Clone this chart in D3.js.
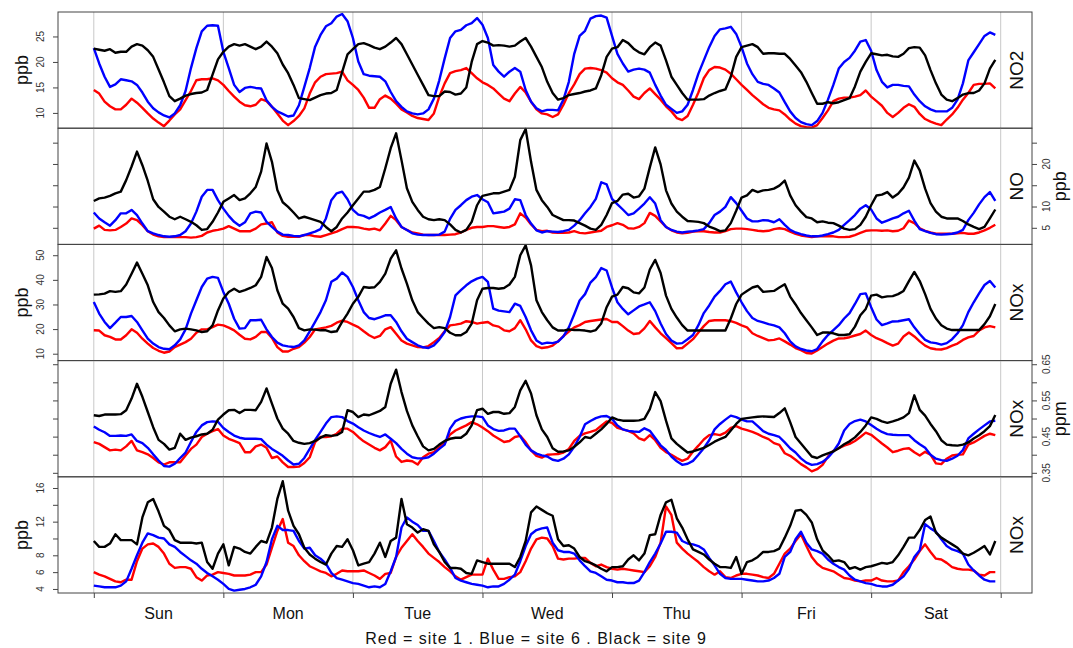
<!DOCTYPE html>
<html lang="en">
<head>
  <meta charset="UTF-8">
  <title>Hour of week NO2 / NO / NOx by site</title>
  <style>
    body { margin: 0; background: #fff; }
    svg { display: block; font-family: "Liberation Sans", Arial, sans-serif; }
  </style>
</head>
<body>
  <svg width="1073" height="648"></svg>

  <script src="https://cdn.jsdelivr.net/npm/d3@7/dist/d3.min.js"></script>
  <script>
    // hour of week: 7 days x 24 h, Sun 00h first
    const DAYS = ["Sun", "Mon", "Tue", "Wed", "Thu", "Fri", "Sat"];
    const CAPTION = "Red = site 1 . Blue = site 6 . Black = site 9";

    // ---- NO2 (ppb)
    const no2Red = [
      14.5,13.8,12.2,11.3,10.7,10.7,11.6,12.8,12.0,11.0,9.9,8.9,8.1,7.4,8.5,9.7,10.7,12.5,14.3,16.4,16.6,16.6,16.8,16.4,
      15.5,14.3,13.2,12.2,11.5,11.3,11.6,12.7,12.3,11.2,9.9,8.5,7.6,8.4,9.4,10.9,13.8,16.0,17.1,17.6,17.7,17.8,18.1,16.4,
      15.5,14.5,13.0,11.0,11.0,12.7,13.4,12.8,11.8,10.7,10.1,9.4,9.0,8.8,8.6,9.9,13.2,15.8,17.8,18.2,18.4,18.8,17.8,16.8,
      16.0,15.5,14.8,13.8,12.8,12.3,13.8,15.1,14.0,12.2,10.7,9.9,9.7,9.2,9.7,11.6,13.9,15.6,17.6,18.7,18.8,18.7,18.4,17.9,
      16.8,16.0,15.5,14.4,13.2,12.7,13.9,14.8,13.7,12.6,11.3,10.3,9.0,8.6,9.4,11.6,14.0,16.8,18.4,19.0,18.9,18.5,17.7,16.6,
      15.5,14.5,13.5,12.6,11.7,11.0,10.7,10.5,9.7,8.7,7.9,7.4,7.2,7.1,7.6,9.0,10.5,12.3,12.8,13.0,13.0,13.2,13.5,14.4,
      13.2,12.3,11.4,10.0,9.2,10.0,11.0,11.7,11.2,9.8,8.8,8.3,7.9,7.6,8.7,9.7,11.0,12.6,13.9,15.5,15.7,15.7,15.8,14.8
    ];
    const no2Blue = [
      22.7,19.7,17.1,15.1,15.6,16.6,16.4,16.2,15.5,14.0,12.2,10.9,10.1,9.5,9.1,9.9,11.5,14.3,18.8,22.7,26.0,27.1,27.2,27.1,
      22.0,18.8,15.5,14.1,14.9,15.1,14.9,14.8,12.5,11.2,10.3,9.8,9.3,9.5,11.5,15.1,18.8,23.0,25.3,27.0,27.6,28.9,29.4,28.0,
      24.7,20.1,17.6,17.3,17.2,17.1,16.2,14.1,12.3,11.2,10.3,9.9,9.7,9.9,10.7,12.8,16.4,20.7,24.7,26.0,26.3,27.2,27.6,28.6,
      27.3,24.7,19.4,18.1,17.1,18.1,18.8,18.1,14.5,12.2,10.9,10.3,10.6,10.6,10.5,12.6,16.1,21.6,25.1,26.1,28.5,29.0,29.1,28.7,
      25.1,21.6,19.7,18.1,18.5,18.7,18.5,17.9,15.5,13.4,11.6,10.8,10.0,10.3,11.6,14.5,17.7,20.3,22.9,25.1,26.4,26.6,26.9,25.5,
      22.9,19.7,17.6,16.1,15.7,15.5,14.8,14.0,12.1,10.3,9.0,8.2,7.8,7.6,8.4,10.0,12.6,15.5,18.7,20.0,20.8,22.2,24.0,24.3,
      22.2,18.4,16.1,15.0,15.5,15.5,15.3,15.2,13.6,12.3,11.3,10.7,10.3,10.3,10.3,11.0,12.6,15.8,20.3,21.9,23.5,25.1,25.8,25.3
    ];
    const no2Black = [
      22.6,22.4,22.2,22.5,21.8,22.0,22.0,23.0,23.5,23.2,22.3,21.0,18.5,16.0,13.3,12.3,12.8,13.4,13.7,13.9,14.0,14.5,17.5,20.5,
      22.0,23.0,23.5,23.2,23.5,23.0,22.5,23.0,24.0,23.0,21.7,19.5,17.8,15.5,12.9,12.7,12.5,13.0,13.5,13.8,13.9,14.5,18.0,21.5,
      22.5,23.5,23.7,23.3,22.8,22.5,23.0,23.8,24.7,23.5,21.5,19.5,17.5,15.5,13.5,13.3,13.3,14.2,14.1,13.6,13.8,15.0,20.0,23.5,
      24.1,23.8,23.2,23.3,23.2,23.0,23.2,24.0,24.7,23.0,21.0,19.0,16.1,13.9,12.6,12.9,13.5,13.7,13.9,14.2,14.4,14.8,17.4,21.0,
      22.6,22.9,24.3,23.7,22.6,21.9,21.5,22.9,23.8,23.2,20.3,17.1,15.5,13.9,12.6,12.6,12.6,12.7,13.4,13.9,14.3,14.6,17.1,21.0,
      22.9,23.2,23.5,22.9,21.6,21.7,21.7,21.6,21.6,20.6,19.3,18.0,16.1,13.9,11.8,11.8,12.1,11.9,12.1,12.5,12.9,15.2,18.1,20.0,
      21.7,21.5,21.3,21.4,21.1,21.0,21.6,22.7,22.9,22.8,21.3,18.4,15.8,13.6,12.6,12.3,12.9,13.6,13.9,13.9,14.4,15.8,18.7,20.4
    ];

    // ---- NO (ppb)
    const noRed = [
      4.8,5.5,4.5,4.4,4.5,5.2,6.0,7.2,6.8,5.6,4.2,3.4,3.0,2.8,2.8,2.9,2.8,2.8,2.7,2.8,3.1,3.9,4.3,4.5,
      4.8,5.4,4.8,4.2,4.2,4.2,4.8,5.8,6.0,6.3,3.9,3.1,2.9,2.9,2.9,3.3,3.3,3.0,2.9,3.3,3.7,4.1,4.7,5.2,
      5.2,5.1,4.8,4.6,4.8,4.4,6.0,7.8,6.8,5.2,4.5,3.9,3.7,3.4,3.3,3.3,3.3,3.3,3.4,3.5,3.9,4.5,5.0,5.2,
      5.2,5.4,5.4,5.2,5.0,5.2,5.8,8.4,7.4,5.8,4.5,4.2,4.3,3.9,3.8,3.8,3.9,4.2,3.8,3.7,3.9,4.1,4.3,5.2,
      5.6,6.1,5.7,4.9,4.8,5.2,6.1,8.5,7.8,6.5,5.2,4.4,3.9,3.7,3.8,4.1,4.2,4.2,4.0,3.9,3.9,4.2,4.7,4.8,
      4.8,4.7,4.5,4.3,4.2,4.3,4.7,4.9,4.7,4.1,3.6,3.2,3.0,2.8,3.0,3.0,3.0,3.0,2.8,2.8,2.9,3.3,3.8,4.3,
      4.4,4.4,4.3,4.4,4.2,4.3,4.9,6.7,6.1,4.9,4.3,3.9,3.6,3.6,3.6,3.6,3.7,3.8,3.6,3.6,3.9,4.4,5.0,5.7
    ];
    const noBlue = [
      8.6,7.2,6.3,5.5,6.8,8.4,8.4,9.2,8.0,6.0,4.2,3.7,3.3,3.0,2.9,3.0,3.3,4.2,6.0,8.8,12.3,13.9,13.9,11.5,
      9.5,7.8,6.4,5.5,6.3,8.4,8.8,8.6,6.4,5.2,4.1,3.4,3.3,3.1,3.0,3.3,3.7,4.1,4.7,7.2,11.5,13.1,13.5,11.7,
      9.2,8.1,7.8,7.2,7.8,8.6,9.2,9.9,7.2,5.2,4.5,3.7,3.4,3.3,3.3,3.3,3.4,4.1,7.1,9.2,10.3,11.5,12.3,12.7,
      11.7,11.0,8.4,8.6,8.8,9.5,11.7,11.5,8.0,6.0,4.4,3.9,4.2,4.1,4.0,4.2,4.5,5.5,6.8,8.4,9.9,11.8,15.7,15.2,
      11.8,10.5,9.3,8.0,8.4,9.5,10.7,12.2,10.7,6.8,5.2,4.5,4.1,3.9,4.1,4.2,4.4,4.7,6.1,8.0,8.8,9.9,12.2,10.8,
      9.0,7.2,6.5,6.5,6.8,6.7,6.3,7.0,5.7,4.5,3.9,3.5,3.2,3.0,3.0,3.2,3.5,3.9,4.5,5.7,6.8,8.0,9.5,10.3,
      9.3,7.2,6.2,6.7,7.2,7.6,8.4,9.0,6.7,4.7,4.2,3.8,3.5,3.4,3.5,3.6,3.9,4.5,6.8,8.5,10.5,12.2,13.4,11.3
    ];
    const noBlack = [
      11.3,11.9,12.1,12.5,13.1,13.5,16.2,19.4,22.9,19.7,16.0,11.7,9.9,8.8,7.6,7.0,7.6,7.0,6.4,5.6,4.5,4.7,6.4,8.6,
      11.1,11.9,12.7,11.5,11.9,13.1,14.6,18.2,24.8,20.5,13.9,11.0,9.9,8.6,7.2,7.6,7.2,6.8,6.4,5.2,4.2,5.2,7.2,8.6,
      10.3,11.9,13.5,13.5,13.9,14.6,19.0,23.7,27.2,20.9,14.3,11.1,9.2,7.6,7.0,6.8,7.0,6.8,5.8,4.5,3.9,4.5,6.4,10.3,
      12.5,12.8,13.1,13.1,13.5,13.9,17.0,25.6,28.2,20.5,13.9,11.5,9.9,8.0,7.4,6.8,6.8,6.7,6.1,5.5,4.8,4.5,5.7,8.0,
      10.8,11.3,12.8,13.0,12.1,12.4,14.2,19.2,23.9,19.9,13.8,10.7,8.8,7.6,6.6,6.5,6.4,6.1,5.3,4.8,4.2,4.4,6.1,9.0,
      12.1,12.6,13.9,13.4,13.8,13.9,14.2,14.9,16.1,12.6,10.3,8.8,7.5,7.2,6.3,6.5,6.2,6.1,5.5,4.8,4.5,4.7,5.7,7.6,
      10.3,12.6,12.8,13.4,12.1,13.0,14.5,16.8,20.8,18.5,14.2,10.8,8.8,7.6,7.2,7.2,7.2,6.6,5.8,5.2,4.7,5.2,7.2,9.3
    ];

    // ---- NOx (ppb)
    const noxRed = [
      19.5,19.4,17.5,16.8,15.8,15.8,17.5,19.9,18.5,16.1,14.1,12.3,11.2,10.4,10.9,12.7,13.7,14.7,16.1,18.5,19.9,19.9,20.8,21.8,
      21.5,20.6,19.5,17.7,16.1,15.8,16.8,18.8,18.8,16.4,12.7,10.9,10.9,12.0,12.7,14.5,16.8,19.9,20.3,20.7,21.3,22.6,23.4,22.9,
      21.8,20.8,19.1,17.5,16.4,17.2,19.9,20.8,18.1,15.4,14.1,13.4,12.7,12.6,13.1,14.7,16.4,19.1,21.5,21.8,22.2,23.2,22.9,22.2,
      22.6,22.9,21.5,21.0,19.5,19.1,20.4,23.6,19.9,15.4,13.1,12.3,12.6,13.3,15.0,17.2,19.0,20.7,21.6,22.9,23.3,23.6,23.9,24.1,
      22.9,22.9,21.2,19.4,18.0,18.3,20.3,23.3,20.7,18.3,16.3,14.3,12.2,12.3,14.1,15.9,18.6,21.2,23.3,23.6,23.6,23.6,23.2,22.5,
      21.5,20.7,18.3,17.2,16.3,15.4,15.6,16.2,15.0,13.7,12.3,11.4,10.3,10.1,11.3,12.7,14.1,15.3,16.2,16.3,16.7,17.4,18.0,19.4,
      17.6,16.3,15.4,14.3,13.3,14.1,17.0,18.6,17.0,15.0,13.3,12.2,11.8,11.7,12.3,13.3,14.1,15.6,16.6,17.2,19.4,20.7,21.2,20.7
    ];
    const noxBlue = [
      31.0,26.3,22.9,20.4,22.6,24.9,24.9,25.3,22.9,19.5,16.1,14.1,12.7,12.0,11.8,13.4,15.8,19.9,26.3,31.7,37.1,40.5,41.2,40.8,
      35.1,30.3,24.2,20.2,20.4,23.6,23.6,23.8,19.9,16.8,14.5,13.4,13.0,12.7,13.4,15.4,19.1,22.9,26.9,31.7,39.2,40.5,43.0,41.2,
      37.1,31.7,26.9,24.5,24.0,24.8,25.6,25.6,22.9,19.1,16.1,14.7,13.4,12.6,12.3,13.4,15.7,18.8,24.9,33.7,35.8,37.8,39.4,40.5,
      41.2,39.2,28.3,27.5,27.2,26.9,30.3,29.4,24.9,19.5,15.4,14.0,14.5,14.3,14.9,17.0,20.7,26.0,31.6,34.2,38.9,41.1,44.8,43.8,
      36.9,30.9,28.2,26.0,27.6,29.2,30.0,30.9,27.3,22.3,18.0,15.4,14.1,14.3,15.9,17.6,21.6,26.5,29.6,33.2,35.5,38.2,39.3,34.9,
      30.9,27.3,24.5,23.3,22.7,22.0,21.5,20.7,18.3,15.0,13.0,11.9,11.3,11.0,11.9,15.0,17.6,19.6,21.6,24.3,26.5,30.2,34.2,34.5,
      28.9,23.9,21.6,22.3,23.1,23.2,23.6,24.0,20.7,18.0,15.6,14.6,14.3,13.7,14.3,15.9,18.3,21.6,26.9,30.9,34.5,37.9,39.5,36.9
    ];
    const noxBlack = [
      34.0,34.1,34.4,35.4,35.1,35.4,38.1,42.5,47.0,42.5,37.8,31.0,26.9,24.5,21.5,19.1,19.9,20.2,19.9,19.5,18.8,19.1,21.5,27.6,
      32.4,35.1,36.4,35.1,35.8,36.7,37.8,41.2,49.3,44.8,35.8,30.3,28.3,24.9,20.4,19.5,19.9,19.8,19.5,19.5,18.8,19.1,22.9,26.3,
      30.3,33.1,37.1,36.8,37.0,39.2,42.5,48.6,52.0,44.6,38.5,31.7,26.9,24.5,22.2,20.4,20.8,20.4,18.5,17.5,17.5,18.8,22.2,31.7,
      36.4,36.7,36.7,36.4,36.7,38.1,41.2,50.0,54.0,45.9,31.7,26.9,23.6,20.7,19.4,19.4,19.9,19.6,19.6,19.4,19.0,19.6,22.3,28.9,
      33.2,34.0,37.1,36.6,34.9,34.5,36.9,44.2,48.1,42.8,33.6,28.2,24.7,21.6,19.4,19.4,19.4,19.4,19.4,19.4,19.4,19.4,24.3,30.2,
      34.0,35.5,36.9,37.5,35.1,35.3,35.5,36.9,38.2,33.2,30.0,26.5,23.6,20.7,17.6,18.6,18.6,18.3,17.6,17.6,17.9,21.0,25.6,28.2,
      33.6,34.0,32.9,33.3,33.4,34.2,35.5,39.5,43.2,39.5,34.2,28.2,24.3,21.6,20.2,19.6,19.6,19.6,19.6,19.6,19.6,22.0,25.2,30.2
    ];

    // ---- NOx (ppm)
    const ppmRed = [
      .435,.430,.421,.412,.414,.412,.423,.438,.412,.407,.401,.391,.379,.373,.379,.379,.379,.398,.416,.428,.449,.458,.465,.471,
      .453,.444,.438,.432,.407,.407,.423,.428,.419,.391,.395,.379,.366,.366,.367,.377,.393,.435,.449,.449,.451,.458,.472,.472,
      .463,.449,.437,.428,.419,.412,.421,.439,.395,.380,.384,.382,.373,.393,.403,.407,.421,.432,.456,.467,.474,.481,.490,.484,
      .475,.465,.453,.444,.435,.438,.449,.452,.435,.412,.397,.392,.400,.401,.402,.406,.416,.438,.452,.459,.463,.468,.480,.492,
      .488,.474,.470,.466,.459,.445,.440,.454,.440,.419,.407,.400,.391,.383,.389,.409,.425,.442,.454,.457,.454,.461,.474,.479,
      .472,.468,.463,.457,.449,.443,.432,.427,.404,.397,.386,.374,.365,.354,.360,.372,.395,.411,.418,.425,.430,.438,.449,.461,
      .455,.443,.431,.420,.407,.411,.416,.418,.407,.398,.408,.400,.376,.374,.389,.398,.400,.401,.428,.434,.443,.452,.458,.454
    ];
    const ppmBlue = [
      .478,.469,.462,.452,.452,.453,.452,.456,.438,.432,.419,.401,.384,.369,.367,.375,.391,.406,.435,.463,.481,.490,.492,.491,
      .474,.463,.453,.447,.444,.444,.444,.443,.428,.416,.407,.397,.384,.373,.375,.391,.416,.441,.463,.486,.504,.506,.504,.493,
      .486,.476,.467,.460,.454,.449,.456,.444,.432,.416,.403,.393,.390,.390,.393,.403,.416,.428,.472,.493,.500,.504,.506,.506,
      .504,.481,.471,.466,.467,.472,.472,.451,.428,.412,.403,.398,.395,.386,.383,.389,.401,.422,.449,.484,.493,.501,.506,.507,
      .499,.481,.470,.466,.464,.463,.473,.466,.446,.426,.413,.395,.382,.372,.375,.383,.400,.418,.440,.470,.485,.497,.508,.504,
      .497,.492,.492,.479,.465,.458,.454,.449,.434,.418,.406,.390,.378,.372,.374,.380,.392,.409,.431,.467,.485,.493,.497,.492,
      .482,.472,.463,.457,.455,.454,.454,.454,.440,.429,.419,.400,.389,.385,.383,.389,.397,.413,.445,.458,.470,.481,.492,.494
    ];
    const ppmBlack = [
      .509,.507,.511,.511,.511,.512,.523,.555,.596,.560,.518,.476,.441,.430,.414,.419,.458,.441,.447,.451,.456,.458,.469,.497,
      .511,.523,.524,.515,.524,.524,.523,.546,.583,.541,.500,.472,.458,.438,.433,.430,.432,.438,.447,.454,.452,.454,.463,.523,
      .518,.504,.511,.509,.515,.521,.532,.596,.635,.573,.521,.481,.451,.423,.412,.416,.428,.438,.444,.447,.447,.458,.481,.523,
      .527,.513,.518,.518,.513,.515,.532,.578,.604,.569,.509,.470,.449,.418,.408,.409,.412,.422,.434,.449,.446,.458,.470,.485,
      .503,.497,.494,.494,.494,.495,.499,.526,.573,.548,.494,.445,.430,.418,.406,.409,.414,.419,.427,.436,.443,.449,.467,.485,
      .499,.501,.503,.505,.506,.505,.504,.515,.528,.490,.449,.431,.413,.395,.391,.398,.404,.409,.418,.429,.437,.448,.463,.481,
      .503,.499,.492,.488,.492,.497,.503,.515,.564,.524,.508,.485,.465,.440,.428,.426,.425,.428,.434,.445,.454,.465,.479,.510
    ];

    // ---- NOx (ppb), lower panel
    const lowRed = [
      6.0,5.7,5.5,5.2,4.9,4.8,5.1,5.1,7.3,8.8,9.3,9.4,9.0,8.2,7.0,6.5,6.6,6.6,6.4,5.4,5.0,5.6,5.7,6.0,
      5.9,5.8,5.6,5.6,5.6,5.7,6.0,6.0,6.9,8.9,10.9,12.3,9.5,9.1,8.0,7.3,6.7,6.4,6.1,5.9,5.5,5.8,6.2,6.1,
      6.1,6.1,6.2,5.9,5.6,5.2,5.8,5.9,7.8,8.9,9.7,10.5,9.7,9.0,8.2,7.7,7.2,6.6,6.1,5.5,5.1,5.4,5.7,5.7,
      5.7,7.6,6.3,5.2,5.2,5.4,5.5,6.0,7.3,8.8,9.9,10.1,10.0,9.1,7.6,7.5,7.6,7.6,7.7,7.7,7.1,6.7,6.9,6.6,
      6.4,6.3,6.4,6.3,6.2,6.1,6.0,6.7,7.8,9.5,13.8,12.8,9.5,8.8,8.2,7.7,7.2,6.6,6.1,5.7,6.1,5.4,5.3,5.6,
      5.8,5.8,5.7,5.6,5.4,5.3,5.8,7.0,8.2,8.8,9.7,10.5,9.1,7.8,7.0,6.5,6.3,6.1,5.7,5.3,5.2,5.0,4.9,5.0,
      5.0,5.3,5.0,4.9,4.9,5.0,6.0,6.7,7.5,8.5,9.3,8.4,7.6,7.5,7.1,6.6,6.4,6.3,6.3,6.2,5.7,5.6,6.0,6.0
    ];
    const lowBlue = [
      4.4,4.3,4.2,4.2,4.2,4.4,4.9,6.4,8.0,9.5,10.6,10.4,10.1,10.0,9.3,9.0,8.4,7.9,7.4,7.0,6.4,5.9,5.5,5.1,
      4.6,4.0,3.8,3.9,4.0,4.2,4.5,5.5,7.2,9.9,11.5,11.0,11.0,10.9,9.7,8.8,8.9,8.0,7.6,7.0,5.9,5.3,5.1,4.9,
      4.7,4.6,4.4,4.2,4.3,4.2,4.6,6.1,7.8,11.3,12.5,12.0,11.6,10.9,10.9,9.7,8.4,7.5,6.5,5.3,5.0,4.8,4.6,4.5,
      4.4,4.2,4.3,4.3,4.6,5.1,5.7,7.3,9.1,10.5,11.0,11.2,11.3,9.5,8.6,8.4,8.4,8.2,7.4,6.7,6.1,5.9,5.5,5.1,
      5.0,4.8,4.8,4.7,4.7,5.0,6.0,7.2,8.2,9.4,10.8,10.8,10.7,9.7,9.4,9.3,9.1,8.7,7.7,6.8,5.8,5.3,5.2,5.2,
      5.2,5.1,5.0,4.9,4.9,5.0,5.3,5.8,7.8,8.4,9.9,10.8,9.5,8.7,8.5,8.2,7.5,7.0,6.6,6.3,5.6,5.1,4.9,4.7,
      4.6,4.4,4.3,4.3,4.5,5.0,5.5,6.4,7.8,8.6,11.7,11.2,10.8,9.9,9.1,8.7,8.5,8.2,6.9,6.2,5.6,5.1,4.9,4.9
    ];
    const lowBlack = [
      9.7,9.0,9.0,9.4,10.5,9.8,9.8,9.8,9.3,12.5,14.3,14.7,13.2,11.5,11.0,9.8,9.5,9.5,9.5,9.4,9.5,7.2,6.4,8.2,
      9.3,6.8,9.0,8.8,8.4,8.2,9.0,9.7,9.5,11.3,14.7,16.8,13.3,11.5,10.5,8.9,8.1,7.6,7.2,6.9,8.2,9.1,9.0,9.9,
      8.6,6.8,7.0,7.2,8.2,9.5,7.8,9.7,10.1,14.7,11.7,11.3,10.7,11.1,10.9,9.3,8.4,7.2,6.5,6.5,6.4,5.9,5.8,7.4,
      7.2,7.0,7.0,7.0,7.0,7.0,6.6,7.8,9.7,13.1,13.8,13.4,13.0,12.7,9.9,9.1,9.2,8.8,7.8,7.3,7.1,6.8,6.4,6.1,
      6.6,6.6,6.7,7.5,8.0,7.4,8.2,10.4,10.5,12.8,14.3,14.6,12.4,11.3,9.9,8.7,8.4,8.1,7.5,7.0,6.6,6.6,6.5,7.8,
      5.8,7.2,7.4,7.8,8.4,8.4,8.5,8.8,10.1,11.5,13.3,13.4,12.8,11.9,9.9,8.6,8.0,7.3,7.4,7.2,6.4,6.6,6.3,6.6,
      6.7,6.9,7.1,7.0,7.2,8.0,9.0,10.1,10.1,11.0,12.2,12.6,10.7,10.1,9.7,9.3,8.9,8.2,8.0,8.3,8.7,9.1,8.1,9.7
    ];

    // panel setup: name, unit, label side, y range, ticks and the tick labels that are shown
    const panels = [
      { name: "NO2", unit: "ppb", side: "left",  domain: [7.0, 29.8],    ticks: [10, 15, 20, 25], shown: [10, 15, 20, 25],
        series: [no2Red, no2Blue, no2Black] },
      { name: "NO",  unit: "ppb", side: "right", domain: [1.1, 28.4],    ticks: [5, 10, 15, 20, 25], shown: [5, 10, 20],
        series: [noRed, noBlue, noBlack] },
      { name: "NOx", unit: "ppb", side: "left",  domain: [7.2, 54.4],    ticks: [10, 20, 30, 40, 50], shown: [10, 20, 30, 40, 50],
        series: [noxRed, noxBlue, noxBlack] },
      { name: "NOx", unit: "ppm", side: "right", domain: [0.339, 0.660], ticks: [0.35, 0.40, 0.45, 0.50, 0.55, 0.60, 0.65], shown: [0.35, 0.45, 0.55, 0.65],
        series: [ppmRed, ppmBlue, ppmBlack] },
      { name: "NOx", unit: "ppb", side: "left",  domain: [3.52, 17.33],  ticks: [4, 6, 8, 10, 12, 14, 16], shown: [4, 6, 8, 12, 16],
        series: [lowRed, lowBlue, lowBlack] }
    ];
    const colors = ["#ff0000", "#0000ff", "#000000"];

    const svg = d3.select("svg");
    const frameL = 58, frameR = 1032, frameT = 12, frameB = 593;
    const panelH = (frameB - frameT) / panels.length;

    const x = d3.scaleLinear().domain([0, 168]).range([93.8, 1000.7]);
    const dayEdges = d3.range(0, 169, 24);

    panels.forEach((p, i) => {
      const y0 = frameT + i * panelH;
      const y = d3.scaleLinear().domain(p.domain).range([y0 + panelH, y0]);
      const g = svg.append("g");

      // day grid
      g.selectAll("line.grid").data(dayEdges).join("line")
        .attr("x1", d => x(d)).attr("x2", d => x(d))
        .attr("y1", y0).attr("y2", y0 + panelH)
        .attr("stroke", "#c8c8c8").attr("stroke-width", 1);

      // lines: site 1, site 6, site 9
      const line = d3.line().x((d, k) => x(k)).y(d => y(d));
      p.series.forEach((s, k) => {
        g.append("path").datum(s)
          .attr("fill", "none")
          .attr("stroke", colors[k])
          .attr("stroke-width", 2.4)
          .attr("stroke-linejoin", "round")
          .attr("d", line);
      });

      // frame
      g.append("rect")
        .attr("x", frameL).attr("y", y0)
        .attr("width", frameR - frameL).attr("height", panelH)
        .attr("fill", "none").attr("stroke", "#444").attr("stroke-width", 1);

      // ticks: left always, right only where the labels are on the right
      const fmt = d => p.shown.some(v => Math.abs(v - d) < 1e-9) ? String(+d.toFixed(2)) : "";
      const leftAxis = svg.append("g").attr("transform", `translate(${frameL},0)`)
        .call(d3.axisLeft(y).tickValues(p.ticks).tickSize(5).tickFormat(""));
      leftAxis.select(".domain").remove();
      leftAxis.selectAll("line").attr("stroke", "#444");

      if (p.side === "right") {
        const rightAxis = svg.append("g").attr("transform", `translate(${frameR},0)`)
          .call(d3.axisRight(y).tickValues(p.ticks).tickSize(5).tickFormat(""));
        rightAxis.select(".domain").remove();
        rightAxis.selectAll("line").attr("stroke", "#444");
      }

      const labX = p.side === "left" ? 40 : 1046;
      const unitX = p.side === "left" ? 22 : 1060;
      svg.append("g").selectAll("text").data(p.ticks.filter(d => fmt(d) !== "")).join("text")
        .attr("transform", d => `translate(${labX},${y(d)}) rotate(-90)`)
        .attr("text-anchor", "middle")
        .attr("dominant-baseline", "central")
        .attr("font-size", 10)
        .attr("fill", "#333")
        .text(fmt);

      svg.append("text")
        .attr("transform", `translate(${unitX},${y0 + panelH / 2}) rotate(-90)`)
        .attr("text-anchor", "middle")
        .attr("dominant-baseline", "central")
        .attr("font-size", 18)
        .attr("fill", "#111")
        .text(p.unit);

      // pollutant label inside the panel, right of the last day line
      svg.append("text")
        .attr("transform", `translate(${(x(168) + frameR) / 2},${y0 + panelH / 2}) rotate(-90)`)
        .attr("text-anchor", "middle")
        .attr("dominant-baseline", "central")
        .attr("font-size", 19)
        .attr("fill", "#111")
        .text(p.name);
    });

    // bottom day axis
    const xAxis = svg.append("g").attr("transform", `translate(0,${frameB})`)
      .call(d3.axisBottom(x).tickValues(dayEdges).tickSize(5).tickFormat(""));
    xAxis.select(".domain").remove();
    xAxis.selectAll("line").attr("stroke", "#444");

    svg.append("g").selectAll("text").data(DAYS).join("text")
      .attr("x", (d, i) => x(i * 24 + 12))
      .attr("y", 613)
      .attr("text-anchor", "middle")
      .attr("dominant-baseline", "central")
      .attr("font-size", 16)
      .attr("fill", "#111")
      .text(d => d);

    svg.append("text")
      .attr("x", 536).attr("y", 638)
      .attr("text-anchor", "middle")
      .attr("dominant-baseline", "central")
      .attr("font-size", 16)
      .attr("letter-spacing", 1)
      .attr("fill", "#111")
      .text(CAPTION);
  </script>
</body>
</html>
